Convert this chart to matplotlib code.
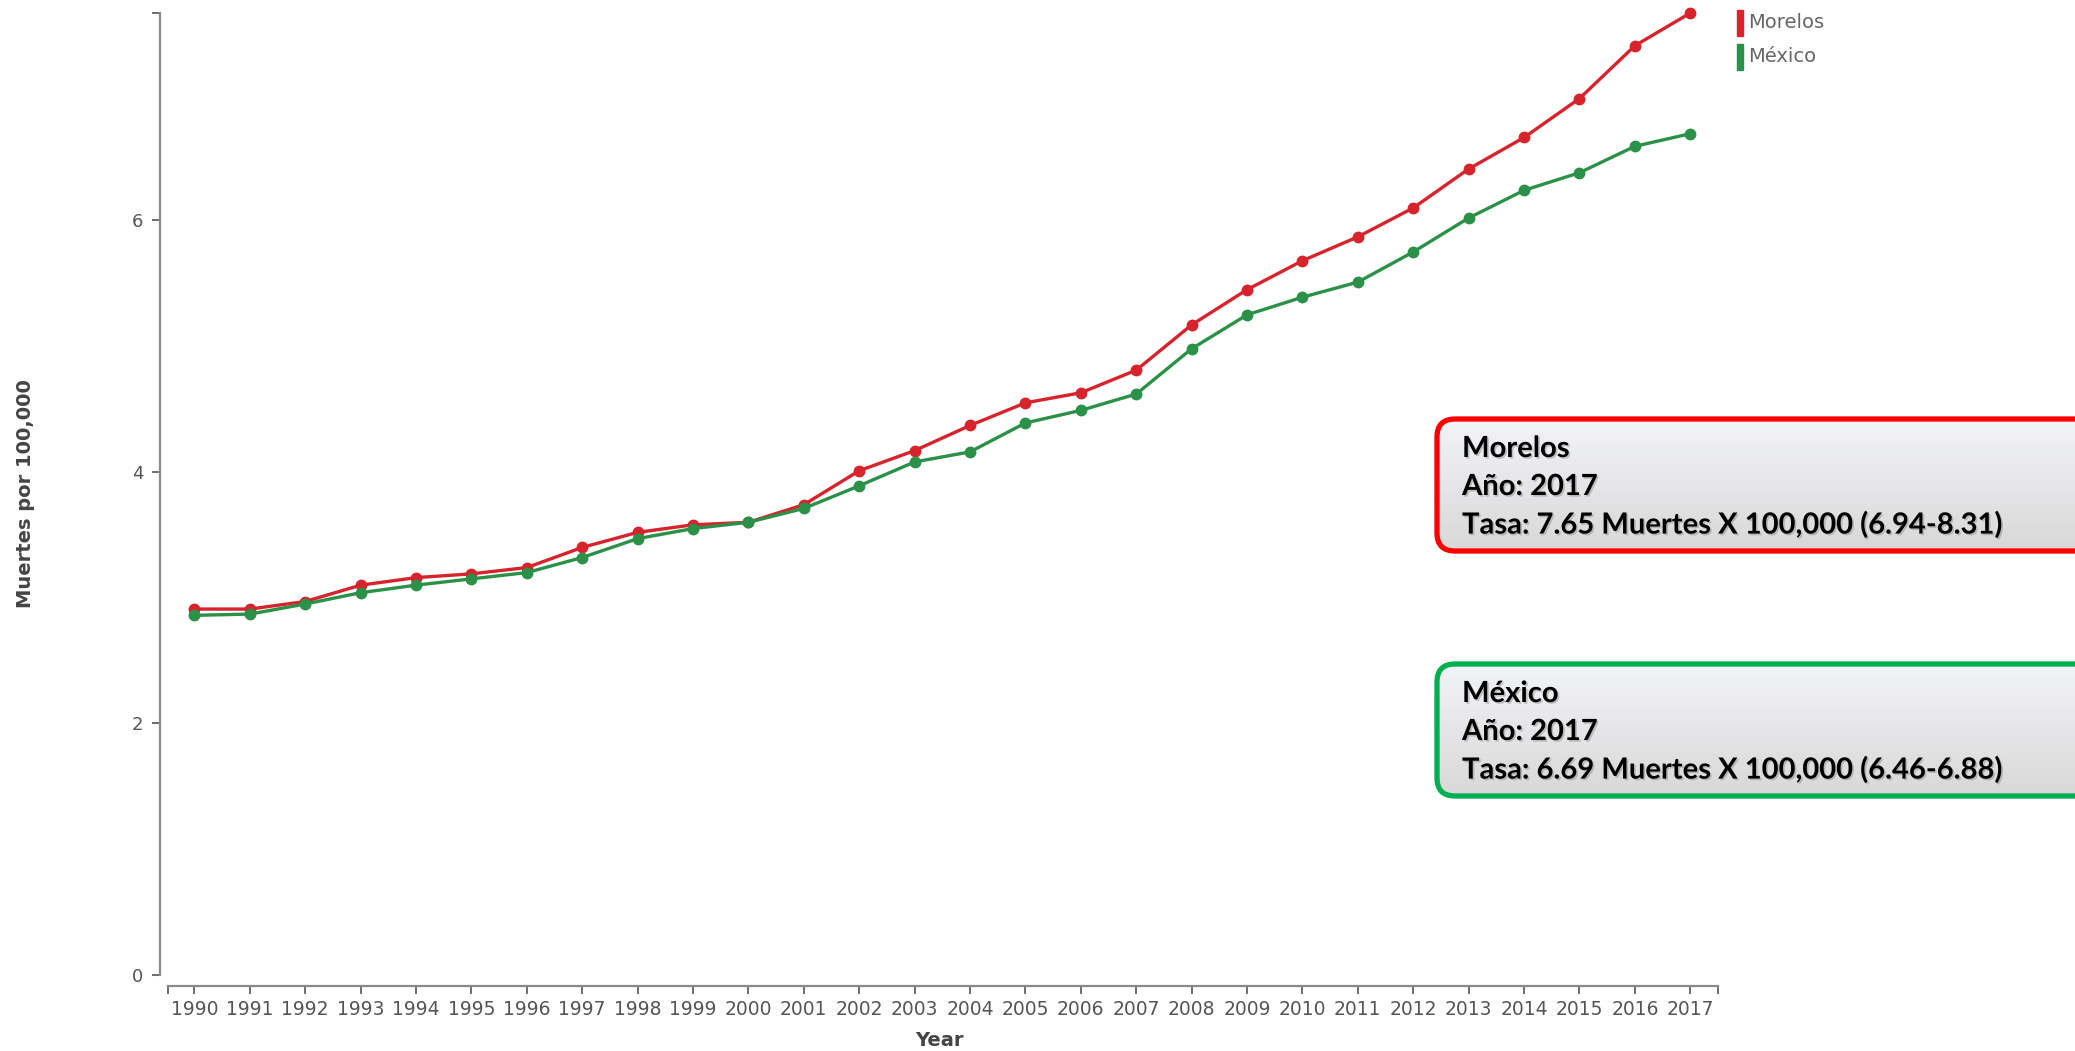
import numpy as np
import matplotlib
matplotlib.use("Agg")
import matplotlib.pyplot as plt
from matplotlib.patches import FancyBboxPatch, Rectangle
from matplotlib.colors import LinearSegmentedColormap
import matplotlib.patheffects as pe

years = list(range(1990, 2018))
morelos = [2.91, 2.91, 2.97, 3.10, 3.16, 3.19, 3.24, 3.40, 3.52, 3.58,
           3.60, 3.74, 4.01, 4.17, 4.37, 4.55, 4.63, 4.81, 5.17, 5.45,
           5.68, 5.87, 6.10, 6.41, 6.66, 6.97, 7.39, 7.65]
mexico = [2.86, 2.87, 2.95, 3.04, 3.10, 3.15, 3.20, 3.32, 3.47, 3.55,
          3.60, 3.71, 3.89, 4.08, 4.16, 4.39, 4.49, 4.62, 4.98, 5.25,
          5.39, 5.51, 5.75, 6.02, 6.24, 6.38, 6.59, 6.69]
series_names = ["Morelos", "México"]
box_lines = [
    ["Morelos", "Año: 2017", "Tasa: 7.65 Muertes X 100,000 (6.94-8.31)"],
    ["México", "Año: 2017", "Tasa: 6.69 Muertes X 100,000 (6.46-6.88)"],
]

red = "#d7232c"
green = "#2b9148"
W, H = 2075, 1051

fig = plt.figure(figsize=(W / 100, H / 100), dpi=100)
ax = fig.add_axes([160 / W, 1 - 975 / H, (1718 - 160) / W, (975 - 13) / H])

ax.plot(years, morelos, color=red, lw=2.4, marker="o", ms=7.5, clip_on=False, zorder=3)
ax.plot(years, mexico, color=green, lw=2.4, marker="o", ms=7.5, clip_on=False, zorder=3)

ax.set_xlim(1989.38, 2017.5)
ax.set_ylim(0, 7.65)
for s in ["top", "right"]:
    ax.spines[s].set_visible(False)
for s in ["left", "bottom"]:
    ax.spines[s].set_color("#8a8a8a")
    ax.spines[s].set_linewidth(1.6)
ax.spines["bottom"].set_position(("outward", 8))
ax.spines["bottom"].set_bounds(1989.52, 2017.5)

ax.set_xticks(years)
ax.set_xticklabels([str(y) for y in years])
ax.set_xticks([1989.52, 2017.5], minor=True)
ax.set_yticks([0, 2, 4, 6])
ax.set_yticks([7.65], minor=True)
ax.tick_params(axis="both", which="both", length=6, width=1.2, color="#555555",
               labelcolor="#555555", labelsize=13.5, pad=4)
ax.tick_params(axis="y", pad=6, labelsize=13)

ax.set_ylabel("Muertes por 100,000", fontsize=14, fontweight="bold", color="#444444")
ax.yaxis.set_label_coords(-0.080, 0.5)
ax.set_xlabel("Year", fontsize=14, fontweight="bold", color="#444444", labelpad=9)

# overlay in pixel coordinates for legend and annotation boxes
ov = fig.add_axes([0, 0, 1, 1], zorder=5)
ov.axis("off")

for i, (name, col) in enumerate(zip(series_names, [red, green])):
    y0 = 10 + i * 34
    ov.add_patch(Rectangle((1737, y0), 6, 26, color=col))
    ov.text(1748, y0 + 13, name, fontsize=14, color="#666666", va="center", ha="left")

grad = np.linspace(0, 1, 256).reshape(-1, 1)
cmap = LinearSegmentedColormap.from_list("g", ["#f3f4f8", "#d8d8d8"])
for i, (lines, col) in enumerate(zip(box_lines, ["#ff0000", "#00b050"])):
    top = 419 + i * 245
    box = FancyBboxPatch((1437, top), 700, 132, boxstyle="round,pad=0,rounding_size=18",
                         fc="none", ec=col, lw=3.8, zorder=3)
    ov.add_patch(box)
    im = ov.imshow(grad, cmap=cmap, extent=(1437, 2137, top + 132, top), aspect="auto", zorder=2)
    im.set_clip_path(box)
    for j, t in enumerate(lines):
        ov.text(1462, top + 30 + j * 38, t, fontsize=21, fontweight="bold", family="Lato",
                color="black", va="center", ha="left", zorder=4,
                path_effects=[pe.withSimplePatchShadow(offset=(1.2, -1.2), shadow_rgbFace="#888888", alpha=0.45)])
ov.set_xlim(0, W)
ov.set_ylim(H, 0)

fig.savefig("out.png", dpi=100)
